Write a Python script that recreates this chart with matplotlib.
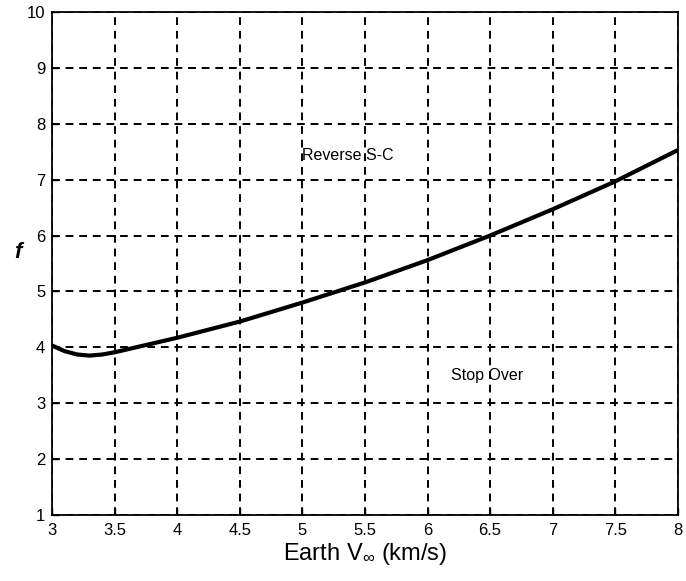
import matplotlib
matplotlib.use('Agg')
import matplotlib.pyplot as plt

# Earth V_inf (km/s) vs f
v_inf = [3.0, 3.1, 3.2, 3.3, 3.4, 3.5, 4.0, 4.5, 5.0, 5.5, 6.0, 6.5, 7.0, 7.5, 8.0]
f_val = [4.03, 3.93, 3.87, 3.85, 3.87, 3.91, 4.17, 4.46, 4.80, 5.16, 5.56, 6.00, 6.47, 6.97, 7.53]

x_ticks = [3, 3.5, 4, 4.5, 5, 5.5, 6, 6.5, 7, 7.5, 8]
x_tick_labels = ['3', '3.5', '4', '4.5', '5', '5.5', '6', '6.5', '7', '7.5', '8']
y_ticks = [1, 2, 3, 4, 5, 6, 7, 8, 9, 10]

plt.rcParams['font.family'] = ['Liberation Sans', 'DejaVu Sans']
plt.rcParams['mathtext.fontset'] = 'custom'
plt.rcParams['mathtext.rm'] = 'Liberation Sans'
plt.rcParams['mathtext.it'] = 'Liberation Sans:italic'

fig = plt.figure(figsize=(6.86, 5.81), dpi=100)
ax = fig.add_axes([0.076, 0.114, 0.912, 0.865])

ax.plot(v_inf, f_val, color='black', linewidth=3.0, solid_capstyle='butt')

ax.set_xlim(3, 8)
ax.set_ylim(1, 10)
ax.set_xticks(x_ticks)
ax.set_xticklabels(x_tick_labels)
ax.set_yticks(y_ticks)
ax.tick_params(direction='in', length=5, width=1, labelsize=12, colors='black')
ax.tick_params(axis='x', pad=6)
ax.tick_params(axis='y', pad=5)
ax.grid(True, color='black', linestyle=(0, (4, 3)), linewidth=1.4)

for s in ax.spines.values():
    s.set_linewidth(1.3)

ax.text(5.0, 7.44, 'Reverse S-C', fontsize=11.5, va='center', ha='left')
ax.text(6.19, 3.5, 'Stop Over', fontsize=11.5, va='center', ha='left')

ax.set_xlabel(r'Earth V$_{\infty}$ (km/s)', fontsize=17, labelpad=2)
ax.set_ylabel('f', fontsize=16, fontweight='bold', fontstyle='italic', rotation=0, labelpad=6)

fig.savefig('out.png', dpi=100)
